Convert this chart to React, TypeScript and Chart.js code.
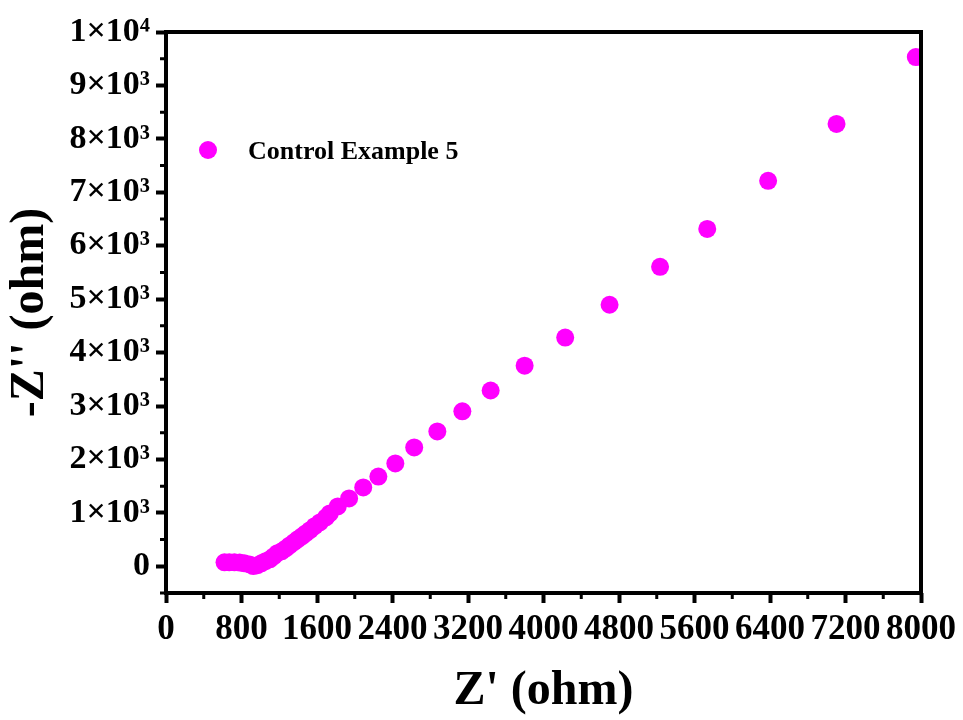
import React, { useEffect, useRef } from 'react';
import { Chart, registerables } from 'chart.js';

Chart.register(...registerables);

const seriesLabel = 'Control Example 5';
const seriesColor = '#FF00FF';

const zReal = [
  620, 670, 725, 780, 830, 885, 925, 970, 1010, 1055, 1100, 1140, 1180, 1225,
  1270, 1310, 1355, 1395, 1440, 1480, 1525, 1575, 1630, 1695, 1735, 1820, 1940,
  2090, 2250, 2430, 2630, 2875, 3140, 3440, 3800, 4230, 4700, 5235, 5735, 6380,
  7105, 7945,
];
const zImag = [
  75, 75, 75, 70, 55, 35, 5, 20, 55, 95, 130, 185, 245, 280,
  335, 390, 450, 505, 560, 615, 675, 750, 820, 915, 990, 1120, 1270,
  1475, 1680, 1925, 2225, 2525, 2900, 3290, 3755, 4280, 4895, 5605, 6315, 7215,
  8280, 9530,
];

const xTickValues = [0, 800, 1600, 2400, 3200, 4000, 4800, 5600, 6400, 7200, 8000];
const xMinorValues = [400, 1200, 2000, 2800, 3600, 4400, 5200, 6000, 6800, 7600];
const yTickValues = [0, 1000, 2000, 3000, 4000, 5000, 6000, 7000, 8000, 9000, 10000];
const yTickLabels = ['0', '1×10³', '2×10³', '3×10³', '4×10³', '5×10³', '6×10³', '7×10³', '8×10³', '9×10³', '1×10⁴'];
const yMinorValues = [-500, 500, 1500, 2500, 3500, 4500, 5500, 6500, 7500, 8500, 9500];

const xTitle = "Z' (ohm)";
const yTitle = "-Z'' (ohm)";

const FONT = "'Liberation Serif', 'Times New Roman', serif";

const framePlugin = {
  id: 'frame',
  afterDraw(chart: any) {
    const { ctx, chartArea } = chart;
    const { left, top, right, bottom } = chartArea;
    const xs = chart.scales.x;
    const ys = chart.scales.y;
    ctx.save();
    ctx.strokeStyle = '#000';
    ctx.lineWidth = 4;
    ctx.strokeRect(left, top, right - left, bottom - top);
    ctx.lineWidth = 3;
    ctx.beginPath();
    xMinorValues.forEach((v) => {
      const px = xs.getPixelForValue(v);
      ctx.moveTo(px, bottom);
      ctx.lineTo(px, bottom + 6);
    });
    yMinorValues.forEach((v) => {
      const py = ys.getPixelForValue(v);
      ctx.moveTo(left, py);
      ctx.lineTo(left - 6, py);
    });
    ctx.stroke();
    const ds = chart.data.datasets[0];
    ctx.fillStyle = ds.backgroundColor;
    ctx.beginPath();
    ctx.arc(208, 150, 9, 0, Math.PI * 2);
    ctx.fill();
    ctx.fillStyle = '#000';
    ctx.font = `bold 26px ${FONT}`;
    ctx.textAlign = 'left';
    ctx.textBaseline = 'middle';
    ctx.fillText(ds.label, 248, 152);
    ctx.restore();
  },
};

export default function App() {
  const ref = useRef<HTMLCanvasElement>(null);
  useEffect(() => {
    document.body.style.margin = '0';
    const canvas = ref.current!;
    const data = zReal.map((x, i) => ({ x, y: zImag[i] }));
    const chart = new Chart(canvas, {
      type: 'scatter',
      data: {
        datasets: [
          {
            label: seriesLabel,
            data,
            backgroundColor: seriesColor,
            borderColor: seriesColor,
            borderWidth: 0,
            pointRadius: 9,
            pointHoverRadius: 9,
          },
        ],
      },
      options: {
        animation: false,
        responsive: false,
        maintainAspectRatio: false,
        layout: { padding: { top: 32, right: 42, left: 0, bottom: 0 } },
        plugins: { legend: { display: false }, tooltip: { enabled: false } },
        scales: {
          x: {
            type: 'linear',
            min: 0,
            max: 8000,
            afterBuildTicks: (axis: any) => {
              axis.ticks = xTickValues.map((v) => ({ value: v }));
            },
            afterFit: (scale: any) => {
              scale.height = 127;
            },
            ticks: {
              autoSkip: false,
              maxRotation: 0,
              minRotation: 0,
              padding: 6,
              color: '#000',
              font: { family: FONT, weight: 'bold', size: 35 },
              callback: (v: any) => String(v),
            },
            grid: {
              drawOnChartArea: false,
              drawTicks: true,
              tickLength: 10,
              tickWidth: 4,
              tickColor: '#000',
            },
            border: { display: false },
            title: {
              display: true,
              text: xTitle,
              color: '#000',
              font: { family: FONT, weight: 'bold', size: 48 },
              padding: { top: 6, bottom: 0 },
            },
          },
          y: {
            type: 'linear',
            min: -500,
            max: 10000,
            afterBuildTicks: (axis: any) => {
              axis.ticks = yTickValues.map((v) => ({ value: v }));
            },
            afterFit: (scale: any) => {
              scale.width = 166;
            },
            ticks: {
              autoSkip: false,
              padding: 6,
              color: '#000',
              font: { family: FONT, weight: 'bold', size: 34 },
              callback: (v: any) => {
                const i = yTickValues.indexOf(Number(v));
                return i >= 0 ? yTickLabels[i] : '';
              },
            },
            grid: {
              drawOnChartArea: false,
              drawTicks: true,
              tickLength: 10,
              tickWidth: 4,
              tickColor: '#000',
            },
            border: { display: false },
            title: {
              display: true,
              text: yTitle,
              color: '#000',
              font: { family: FONT, weight: 'bold', size: 48 },
              padding: { top: 2, bottom: 0 },
            },
          },
        },
      },
      plugins: [framePlugin],
    });
    return () => chart.destroy();
  }, []);
  return (
    <div style={{ width: 963, height: 720, background: '#fff' }}>
      <canvas ref={ref} width={963} height={720} style={{ display: 'block' }} />
    </div>
  );
}
